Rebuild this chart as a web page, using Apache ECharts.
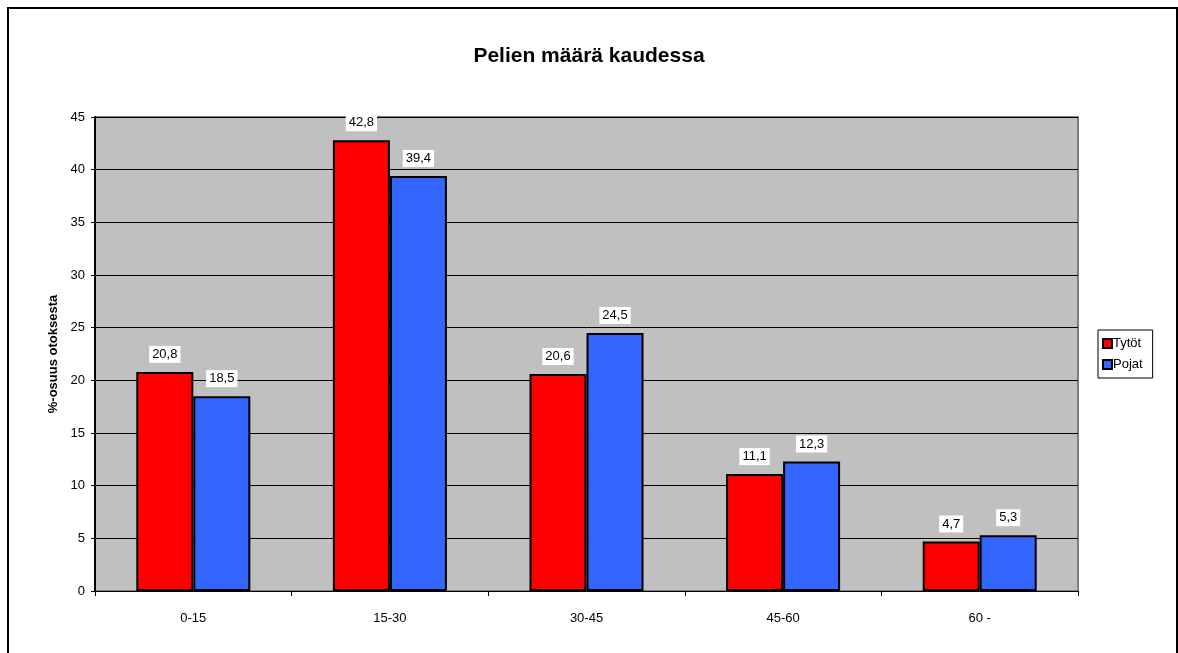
<!DOCTYPE html>
<html>
<head>
<meta charset="utf-8">
<style>
  html, body { margin: 0; padding: 0; background: #fff; }
  #chart { width: 1178px; height: 653px; }
</style>
<script src="https://cdn.jsdelivr.net/npm/echarts@6/dist/echarts.min.js"></script>
</head>
<body>
<div id="chart"></div>
<script>
const categories = ['0-15', '15-30', '30-45', '45-60', '60 -']
const tytot = [20.8, 42.8, 20.6, 11.1, 4.7]
const pojat = [18.5, 39.4, 24.5, 12.3, 5.3]

const font = 'Liberation Sans, Arial, sans-serif'

const label = {
  show: true,
  position: 'top',
  distance: 9,
  color: '#000',
  fontFamily: font,
  fontSize: 13,
  backgroundColor: '#fff',
  padding: [2, 3],
  formatter: p => String(p.value).replace('.', ',')
}

const chart = echarts.init(document.getElementById('chart'))
chart.setOption({
  animation: false,
  title: {
    text: 'Pelien määrä kaudessa',
    left: 'center',
    top: 41,
    textStyle: { fontFamily: font, fontSize: 21, fontWeight: 'bold', color: '#000' }
  },
  graphic: [{
    type: 'rect',
    shape: { x: 8, y: 8, width: 1169, height: 660 },
    style: { fill: 'none', stroke: '#000', lineWidth: 2 },
    silent: true
  }],
  legend: {
    orient: 'vertical',
    left: 1098,
    top: 330,
    itemWidth: 9,
    itemHeight: 9,
    itemGap: 8,
    padding: [7, 10, 7, 4],
    borderColor: '#000',
    borderWidth: 1,
    icon: 'rect',
    textStyle: { fontFamily: font, fontSize: 13, color: '#000', padding: [0, 0, 0, -4] },
    data: ['Tytöt', 'Pojat']
  },
  grid: {
    left: 95, right: 100, top: 117, bottom: 62,
    show: true,
    backgroundColor: '#c0c0c0',
    borderColor: '#808080',
    borderWidth: 2
  },
  xAxis: {
    type: 'category',
    data: categories,
    axisLine: { lineStyle: { color: '#000', width: 1 } },
    axisTick: { show: true, length: 5, lineStyle: { color: '#000' } },
    axisLabel: { color: '#000', fontFamily: font, fontSize: 13, margin: 21 }
  },
  yAxis: {
    type: 'value',
    min: 0,
    max: 45,
    interval: 5,
    name: '%-osuus otoksesta',
    nameLocation: 'middle',
    nameGap: 33,
    nameTextStyle: { fontFamily: font, fontSize: 13, fontWeight: 'bold', color: '#000' },
    axisLine: { show: true, lineStyle: { color: '#000', width: 2 } },
    axisTick: { show: true, length: 4, lineStyle: { color: '#000' } },
    axisLabel: { color: '#000', fontFamily: font, fontSize: 13, margin: 10 },
    splitLine: { lineStyle: { color: '#000', width: 1 } }
  },
  series: [
    {
      name: 'Tytöt',
      type: 'bar',
      data: tytot,
      barGap: '0%',
      barCategoryGap: '42%',
      itemStyle: { color: '#ff0000', borderColor: '#000', borderWidth: 2 },
      label: label
    },
    {
      name: 'Pojat',
      type: 'bar',
      data: pojat,
      itemStyle: { color: '#3366ff', borderColor: '#000', borderWidth: 2 },
      label: label
    }
  ]
})
</script>
</body>
</html>
